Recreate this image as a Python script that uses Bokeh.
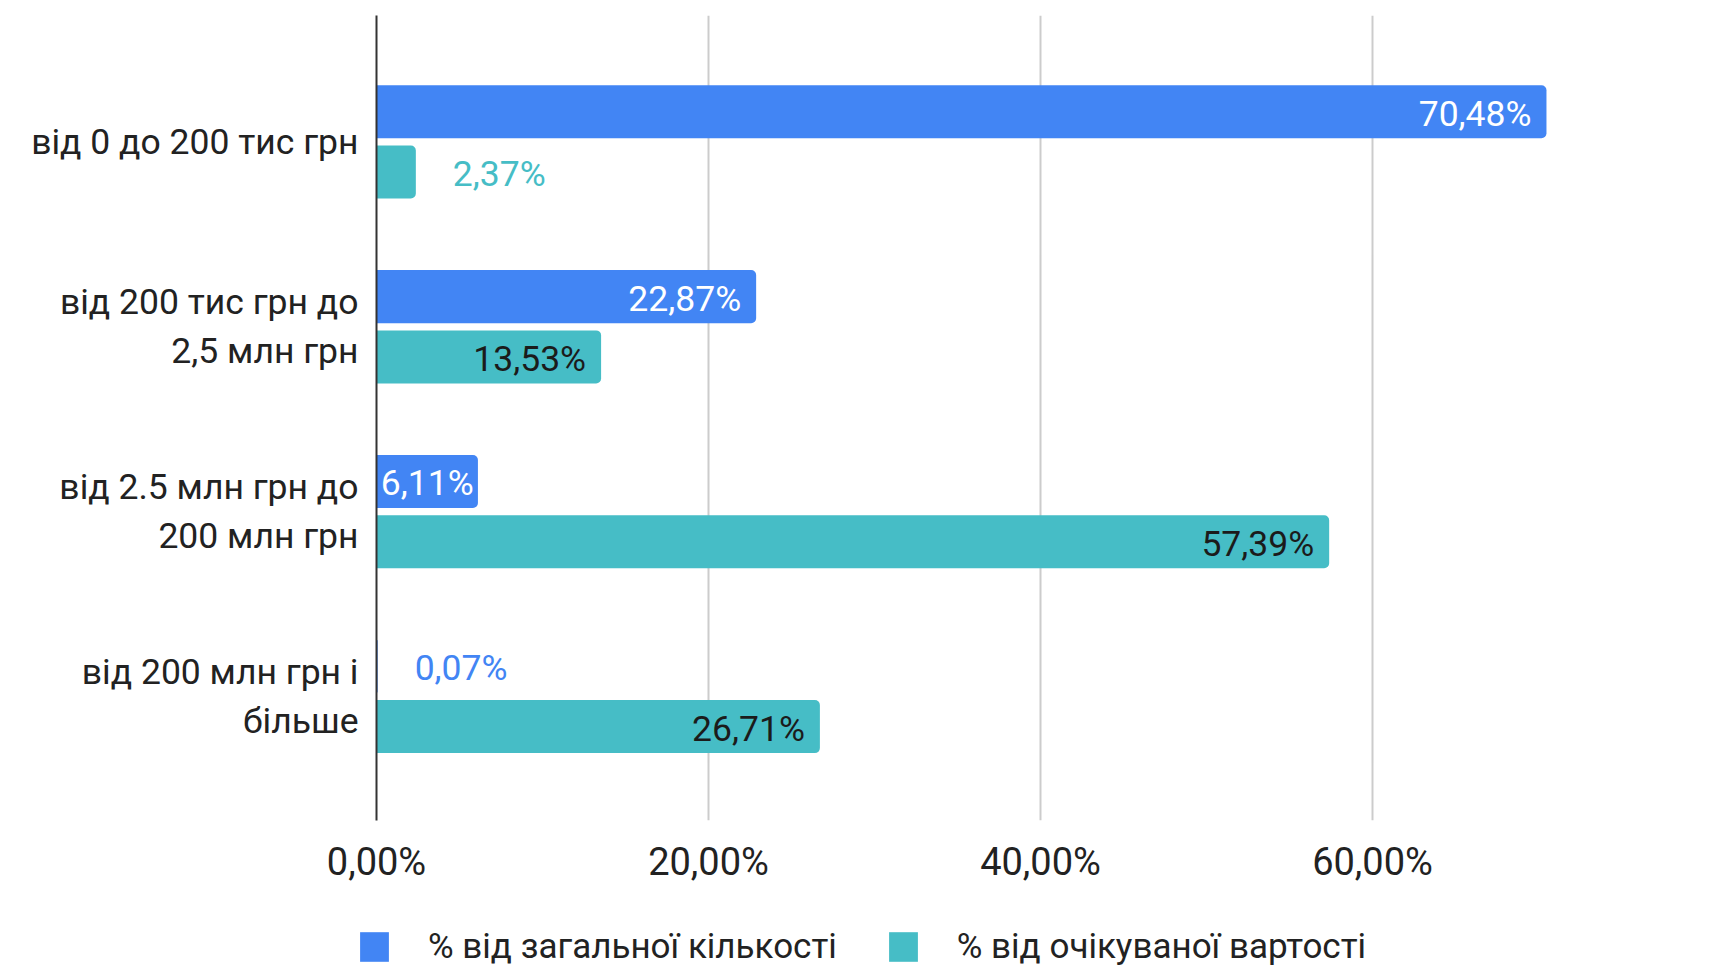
from bokeh.plotting import figure
from bokeh.layouts import column, row
from bokeh.models import (ColumnDataSource, Range1d, FixedTicker, Legend, LegendItem)
from bokeh.core.properties import value
from bokeh.embed import file_html
from bokeh.resources import INLINE

# ---- data ----
categories = [
    "від 0 до 200 тис грн",
    "від 200 тис грн до\n2,5 млн грн",
    "від 2.5 млн грн до\n200 млн грн",
    "від 200 млн грн і\nбільше",
]
share_count = [70.48, 22.87, 6.11, 0.07]      # % від загальної кількості
share_value = [2.37, 13.53, 57.39, 26.71]     # % від очікуваної вартості
series_names = ["% від загальної кількості", "% від очікуваної вартості"]
x_ticks = [0, 20, 40, 60, 80]
x_tick_labels = ["0,00%", "20,00%", "40,00%", "60,00%", ""]

BLUE = "#4285F4"
TEAL = "#46BDC6"
FONT = "Roboto"
FS = "35.5px"

W = 1718
H1, H2 = 890, 77
LEFT = 376
p = figure(width=W, height=H1, output_backend="svg", toolbar_location=None,
           x_range=Range1d(0, 80), y_range=Range1d(3.671, -0.684),
           min_border_left=LEFT, min_border_right=14, min_border_top=15,
           min_border_bottom=70)
p.outline_line_color = None
p.background_fill_color = "white"
p.border_fill_color = "white"

pos = list(range(len(categories)))
off = 0.163
bh = 0.287

def fmt(v):
    return ("%.2f" % v).replace(".", ",") + "%"

series = [(share_count, BLUE, -1, "white"), (share_value, TEAL, 1, "#1b1b1b")]
for vals, color, sign, inside_color in series:
    ys = [i + sign * off for i in pos]
    src = ColumnDataSource(dict(y=ys, right=vals))
    p.hbar(y="y", left=0, right="right", height=bh, source=src,
           fill_color=color, line_color=None, border_radius=(0, 5, 5, 0))
    groups = {"in": dict(x=[], y=[], t=[]), "mid": dict(x=[], y=[], t=[]),
              "out": dict(x=[], y=[], t=[])}
    for v, y in zip(vals, ys):
        if v < 5:
            g = groups["out"]; g["x"].append(v)
        elif v < 10:
            g = groups["mid"]; g["x"].append(v / 2)
        else:
            g = groups["in"]; g["x"].append(v)
        g["y"].append(y); g["t"].append(fmt(v))
    for key, align, xo, col in [("in", "right", -15, inside_color),
                                ("mid", "center", 0, inside_color),
                                ("out", "left", 37, color)]:
        g = groups[key]
        if not g["x"]:
            continue
        p.text(x=g["x"], y=g["y"], text=g["t"], x_offset=xo, y_offset=2,
               text_align=align, text_baseline="middle",
               text_font=value(FONT), text_font_size=FS, text_color=col)

# x axis
p.xaxis.ticker = FixedTicker(ticks=x_ticks)
p.xaxis.major_label_overrides = {t: l for t, l in zip(x_ticks, x_tick_labels)}
p.xaxis.axis_line_color = None
p.xaxis.major_tick_line_color = None
p.xaxis.minor_tick_line_color = None
p.xaxis.major_label_text_font = FONT
p.xaxis.major_label_text_font_size = "38px"
p.xaxis.major_label_text_color = "#222222"
p.xaxis.major_label_standoff = 13
p.xgrid.ticker = FixedTicker(ticks=x_ticks)
p.xgrid.grid_line_color = "#cccccc"
p.xgrid.grid_line_width = 2

# y axis
p.yaxis.ticker = FixedTicker(ticks=pos)
p.yaxis.major_label_overrides = {i: c for i, c in zip(pos, categories)}
p.yaxis.axis_line_color = "#333333"
p.yaxis.axis_line_width = 2
p.yaxis.major_tick_line_color = None
p.yaxis.minor_tick_line_color = None
p.yaxis.major_label_text_font = FONT
p.yaxis.major_label_text_font_size = FS
p.yaxis.major_label_text_color = "#222222"
p.yaxis.major_label_text_align = "right"
p.yaxis.major_label_text_line_height = 1.16
p.yaxis.major_label_standoff = 12
p.ygrid.grid_line_color = None

# legend strip: its own frame spans the full strip width
p2 = figure(width=W, height=H2, output_backend="svg", toolbar_location=None,
            x_range=Range1d(0, 1), y_range=Range1d(0, 1),
            x_axis_type=None, y_axis_type=None,
            min_border_left=0, min_border_right=0, min_border_top=0,
            min_border_bottom=0)
p2.outline_line_color = None
p2.xgrid.grid_line_color = None
p2.ygrid.grid_line_color = None
items = []
for name, (vals, color, sign, ic) in zip(series_names, series):
    # swatch renderer kept far outside the visible range; only used by the legend
    r = p2.hbar(y=[-100], right=[1], height=1, fill_color=color, line_color=None)
    items.append(LegendItem(label=name, renderers=[r]))
legend = Legend(items=items, orientation="horizontal", location=(356, 0),
                glyph_width=36, glyph_height=37, label_standoff=36,
                spacing=48, padding=0, margin=0,
                border_line_color=None, background_fill_alpha=0,
                label_text_font=FONT, label_text_font_size="35px",
                label_text_color="#222222")
p2.add_layout(legend, "center")

layout = column(p, row(p2), spacing=0)
open("out.html", "w").write(file_html(layout, INLINE))
